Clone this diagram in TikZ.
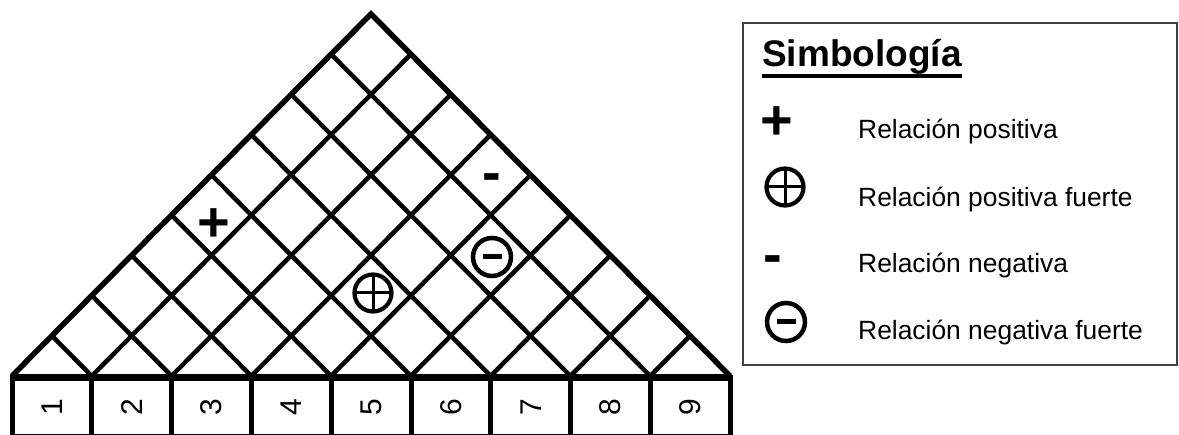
\documentclass[tikz,border=0pt]{standalone}
\usepackage{fontspec}
\setmainfont{Liberation Sans}
\usepackage{graphicx}
\usetikzlibrary{calc}
\begin{document}
\begin{tikzpicture}[x=1pt,y=1pt,
  outer/.style={line width=5.5pt, line join=miter},
  inner/.style={line width=4.5pt},
  numbox/.style={draw, line width=5pt, minimum width=79.8pt, minimum height=59pt, inner sep=0pt, outer sep=0pt},
  legtext/.style={anchor=base west, inner sep=0pt, font=\fontsize{26.4}{30}\selectfont},
  sym/.style={anchor=base, inner sep=0pt, font=\bfseries\fontsize{56}{60}\selectfont},
  oplus/.style={circle, draw, line width=4.2pt, minimum size=37pt, inner sep=0pt, outer sep=0pt},
  ominus/.style={circle, draw, line width=4.5pt, minimum size=38pt, inner sep=0pt, outer sep=0pt},
  cross/.style={line width=3pt},
  bar/.style={line width=5pt},
]
\useasboundingbox (0,0) rectangle (1179,435);
\coordinate (L) at (12,59);
\coordinate (R) at (730,59);
\coordinate (A) at (371,421);
\foreach \i in {1,...,8}{
  \coordinate (P\i) at ($(L)!\i/9!(R)$);
  \coordinate (Q\i) at ($(A)!\i/9!(R)$);
  \coordinate (S\i) at ($(L)!\i/9!(A)$);
  \draw[inner] (P\i) -- (Q\i);
  \draw[inner] (P\i) -- (S\i);
}
\draw[outer] (L) -- (A) -- (R);
\foreach \k in {1,...,9}{
  \node[numbox] (b\k) at ({12+79.8*(\k-0.5)},27.5) {\rotatebox{90}{\fontsize{30}{30}\selectfont\k}};
}
\draw[line width=7pt] (b1.north west) -- (b9.north east);
% symbols in the roof
\node[sym] (tplus) at (214,193.5) {+};
\node[oplus] (top) at (373,142) {};
\draw[cross] (top.north) -- (top.south) (top.west) -- (top.east);
\node[sym] (tminus) at (492,243.5) {-};
\node[ominus] (tom) at (492,178) {};
\draw[bar] ($(tom.center)+(-9.5,0)$) -- ($(tom.center)+(9.5,0)$);
% legend
\node[draw=black!75, line width=1.5pt, minimum width=434pt, minimum height=342pt, inner sep=0pt, outer sep=0pt] (leg) at (960,241) {};
\node[anchor=base west, inner sep=0pt, font=\bfseries\fontsize{37}{40}\selectfont] (title) at (762,368) {Simbología};
\draw[line width=4pt] ($(title.base west)+(0,-9)$) -- ($(title.base east)+(0,-9)$);
\node[sym] (lplus) at (777,295.5) {+};
\node[oplus] (lop) at (785,248) {};
\draw[cross] (lop.north) -- (lop.south) (lop.west) -- (lop.east);
\node[sym] (lminus) at (773,161.5) {-};
\node[ominus] (lom) at (786,113) {};
\draw[bar] ($(lom.center)+(-9.5,0)$) -- ($(lom.center)+(9.5,0)$);
\node[legtext] (t1) at (858,296) {Relación positiva};
\node[legtext] (t2) at (858,228) {Relación positiva fuerte};
\node[legtext] (t3) at (858,162) {Relación negativa};
\node[legtext] (t4) at (858,95) {Relación negativa fuerte};
\end{tikzpicture}
\end{document}
